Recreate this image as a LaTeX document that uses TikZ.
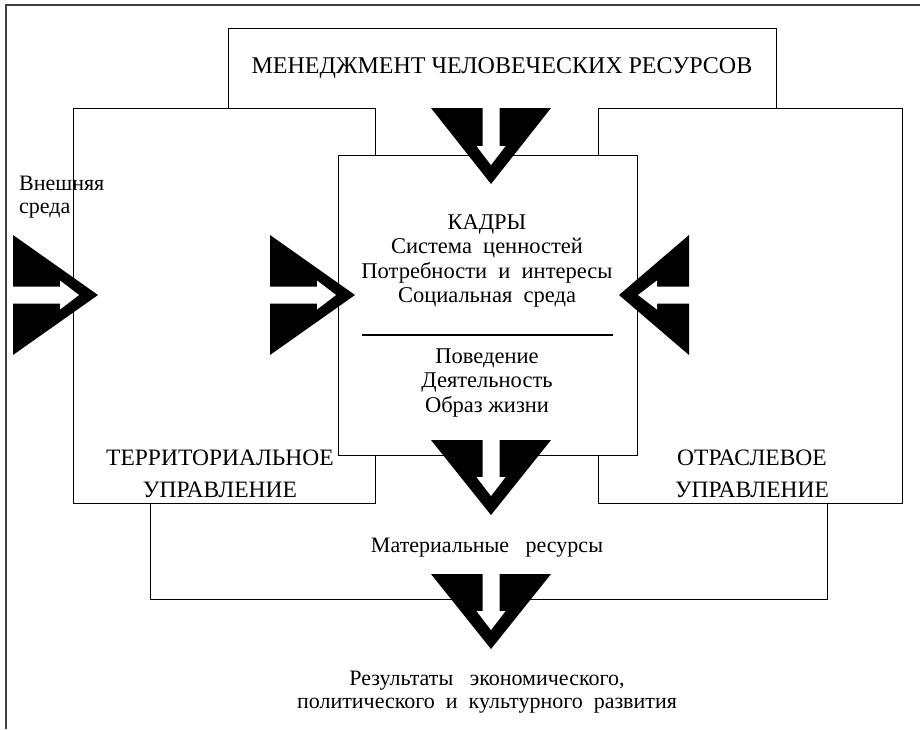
\documentclass[tikz,border=0pt]{standalone}
\usepackage{fontspec}
\setmainfont{Liberation Serif}
\usetikzlibrary{positioning}
\tikzset{
  frame/.style={draw, fill=white, line width=0.9pt, inner sep=0pt},
  caption/.style={font=\fontsize{22.5}{24.5}\selectfont, align=center, inner sep=0pt},
  capital/.style={caption, font=\fontsize{23.5}{32}\selectfont},
  pics/bigarrow/.style={code={
    \fill[black] (0,0) -- (-#1,60) -- (-#1,-60) -- cycle;
    \fill[white] (-19,0) -- (-38,14.5) -- (-38,8.5) -- (-#1-1,8.5)
      -- (-#1-1,-8.5) -- (-38,-8.5) -- (-38,-14.5) -- cycle;
  }}
}

\begin{document}
\begin{tikzpicture}[x=1pt, y=-1pt]
  \useasboundingbox (0,0) rectangle (920,729);
  \draw[line width=1.2pt, black!75] (6,729) |- (920,5);
  % boxes, back to front
  \node[frame, minimum width=548, minimum height=172, anchor=north] (hrm) at (502,28) {};
  \node[frame, minimum width=677, minimum height=200, anchor=south] (res) at (488.5,600) {};
  \node[frame, minimum width=302, minimum height=395] (terr) at (224,305.5) {};
  \node[frame, minimum width=304, minimum height=395] (otr) at (750,305.5) {};
  \node[frame, minimum width=299, minimum height=300] (kadry) at (487.5,305) {};
  \draw[line width=1.6pt] (362,335) -- (613,335);
  % texts
  \node[capital, font=\fontsize{24}{28}\selectfont] (hrmtxt) at (502,68) {МЕНЕДЖМЕНТ ЧЕЛОВЕЧЕСКИХ РЕСУРСОВ};
  \node[caption, font=\fontsize{22}{23}\selectfont, align=left, anchor=west] (env) at (19,197) {Внешняя\\среда};
  \node[capital] (terrtxt) at (220,474) {ТЕРРИТОРИАЛЬНОЕ\\УПРАВЛЕНИЕ};
  \node[capital] (otrtxt) at (752,474) {ОТРАСЛЕВОЕ\\УПРАВЛЕНИЕ};
  \node[caption] (kadrytxt) at (487,261) {КАДРЫ\\Система~~ценностей\\Потребности~ и~ интересы\\Социальная~ среда};
  \node[caption] (behav) at (487,383) {Поведение\\Деятельность\\Образ жизни};
  \node[caption, font=\fontsize{22}{23}\selectfont] (mattxt) at (487,548) {Материальные~~ ресурсы};
  \node[caption, font=\fontsize{22}{23}\selectfont] (result) at (487,692) {Результаты~~ экономического,\\политического~ и~ культурного~ развития};
  % arrows
  \pic[rotate=-90] at (491,184) {bigarrow=76};
  \pic[rotate=-90] at (491,515) {bigarrow=75};
  \pic[rotate=-90] at (491,649) {bigarrow=75};
  \pic at (98,295) {bigarrow=85};
  \pic at (355,295) {bigarrow=85};
  \pic[rotate=180] at (619,295) {bigarrow=70};
\end{tikzpicture}
\end{document}
